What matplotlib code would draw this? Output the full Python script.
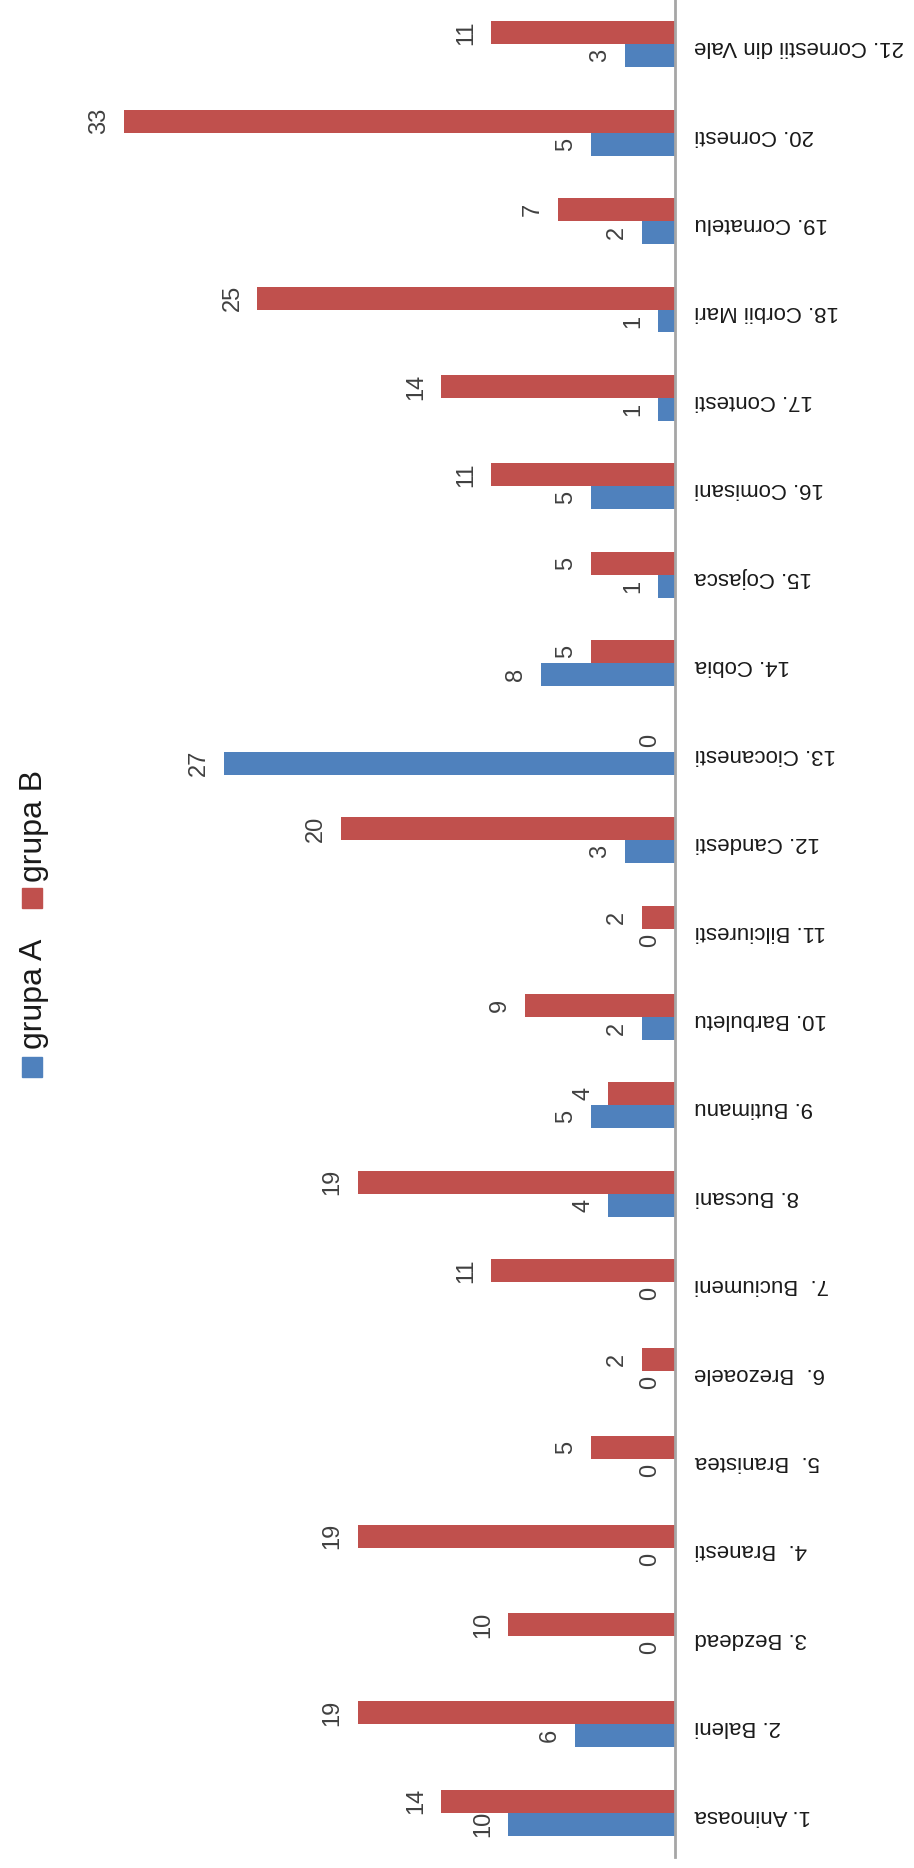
import numpy as np
import matplotlib
matplotlib.use("Agg")
import matplotlib.pyplot as plt
from matplotlib.patches import Rectangle

plt.rcParams['font.family'] = ['Liberation Sans', 'DejaVu Sans']

categories = ["1. Aninoasa", "2. Baleni", "3. Bezdead", "4.  Branesti", "5.  Branistea",
              "6.  Brezoaele", "7.  Buciumeni", "8. Bucsani", "9. Butimanu", "10. Barbuletu",
              "11. Bilciuresti", "12. Candesti", "13. Ciocanesti", "14. Cobia", "15. Cojasca",
              "16. Comisani", "17. Contesti", "18. Corbii Mari", "19. Cornatelu", "20. Cornesti",
              "21. Cornestii din Vale"]
grupa_a = [10, 6, 0, 0, 0, 0, 0, 4, 5, 2, 0, 3, 27, 8, 1, 5, 1, 1, 2, 5, 3]
grupa_b = [14, 19, 10, 19, 5, 2, 11, 19, 4, 9, 2, 20, 0, 5, 5, 11, 14, 25, 7, 33, 11]
series_names = ["grupa A", "grupa B"]
colors = ["#4F81BD", "#C0504D"]

W, H = 914, 1868
fig = plt.figure(figsize=(W / 100, H / 100), dpi=100)
ax = fig.add_axes([0, 11 / H, 675 / W, 1857 / H])

y = np.arange(len(categories))
h = 0.26
bars_a = ax.barh(y - h / 2, grupa_a, height=h, color=colors[0])
bars_b = ax.barh(y + h / 2, grupa_b, height=h, color=colors[1])

for bars, vals in ((bars_a, grupa_a), (bars_b, grupa_b)):
    for b, v in zip(bars, vals):
        ax.annotate(str(v), (v, b.get_y() + b.get_height() / 2),
                    xytext=(-10, 0), textcoords='offset points',
                    rotation=90, ha='right', va='center',
                    fontsize=17, color='#404040')

ax.set_xlim(40.4, 0)
ax.set_ylim(-0.5, 20.5)
ax.set_xticks([])
ax.set_yticks(y)
ax.set_yticklabels(categories)
ax.yaxis.tick_right()
ax.tick_params(axis='y', length=0, pad=14, labelsize=16, labelrotation=180, colors='#1a1a1a')
for s in ('top', 'bottom', 'left'):
    ax.spines[s].set_visible(False)
ax.spines['right'].set_color('#a6a6a6')
ax.spines['right'].set_linewidth(2)

# legend, rotated like the rest of the chart
fig.add_artist(Rectangle((22 / W, 1 - 908 / H), 20 / W, 20 / H, transform=fig.transFigure,
                         color=colors[1]))
fig.add_artist(Rectangle((22 / W, 1 - 1077 / H), 20 / W, 20 / H, transform=fig.transFigure,
                         color=colors[0]))
fig.text(34 / W, 1 - 826 / H, series_names[1], rotation=90, ha='center', va='center',
         fontsize=23, color='#1a1a1a')
fig.text(34 / W, 1 - 994 / H, series_names[0], rotation=90, ha='center', va='center',
         fontsize=23, color='#1a1a1a')

fig.savefig("out.png", dpi=100)
